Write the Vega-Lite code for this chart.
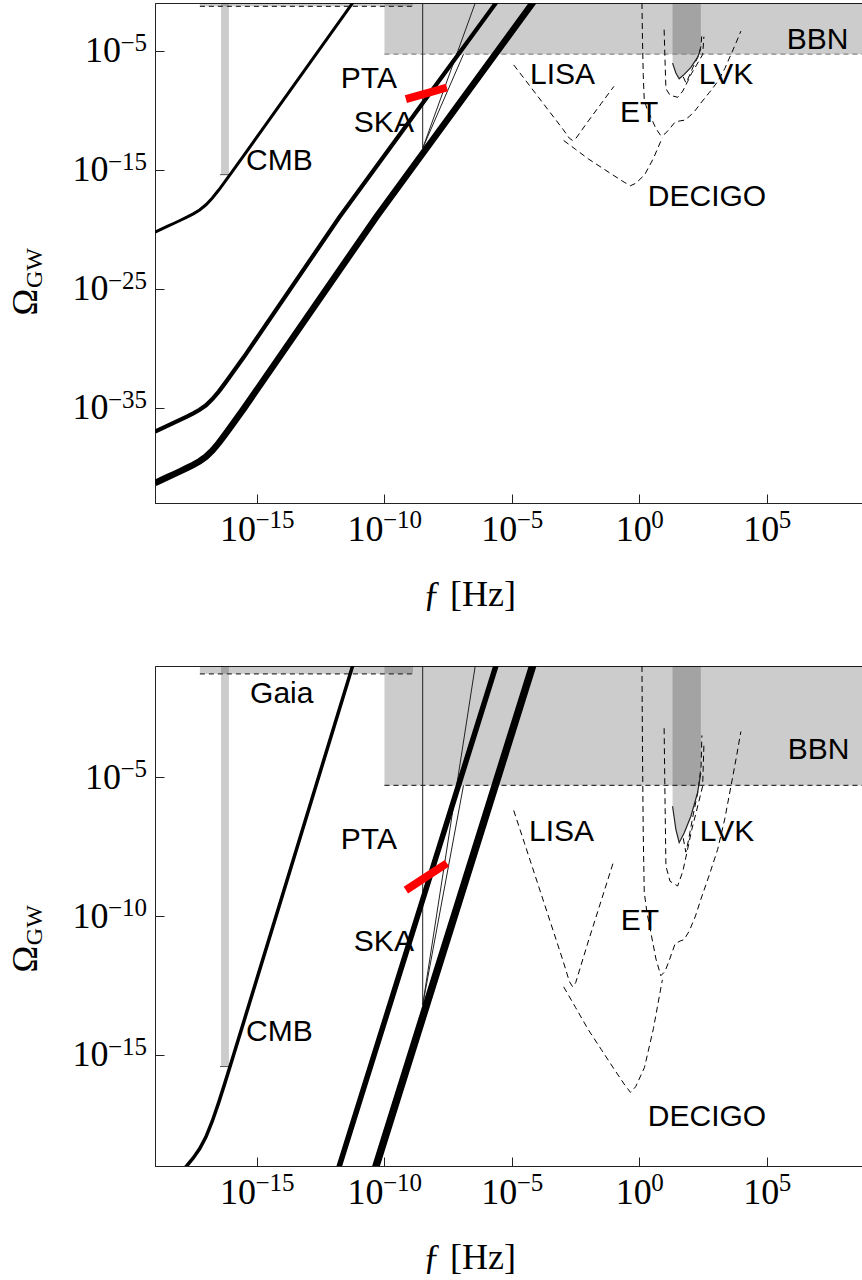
{
 "$schema": "https://vega.github.io/schema/vega-lite/v6.json",
 "background": "white",
 "padding": {"left": 7, "top": 2, "right": 0, "bottom": 0},
 "spacing": 52,
 "config": {
  "view": {"stroke": "#222", "strokeWidth": 1},
  "axis": {"labelFont": "Liberation Serif", "labelFontSize": 36, "titleFont": "Liberation Serif", "titleFontSize": 36, "titleFontWeight": "normal", "titleColor": "black", "labelColor": "black", "domainColor": "#222", "tickColor": "#222", "tickSize": -9, "grid": false, "labelOverlap": false, "labelFlush": false, "labelExpr": "'10'"},
  "axisX": {"labelPadding": 35, "labelBaseline": "middle", "labelAlign": "right",
   "labelOffset": {"condition": [{"test": "datum.value <= -10", "value": -1.5}, {"test": "datum.value == -5", "value": 4.7}], "value": 11.75},
   "titleX": 314, "titleY": 102, "titleBaseline": "alphabetic", "titleAlign": "center"},
  "axisY": {"labelPadding": {"condition": {"test": "datum.value == -5", "value": 43.6}, "value": 56}}
 },
 "datasets": {
  "regions": [
   {"id": "bbn", "X": -10, "X2": 9, "Y": -5.3, "Y2": -1},
   {"id": "gaia", "X": -17.24, "X2": -8.88, "Y": -1.28, "Y2": -1},
   {"id": "cmbbar", "X": -16.41, "X2": -16.1, "Y": -15.42, "Y2": -1}
  ],
  "bounds": [
   {"id": "bbn", "X": -10, "Y": -5.3}, {"id": "bbn", "X": 9, "Y": -5.3},
   {"id": "gaia", "X": -17.24, "Y": -1.28}, {"id": "gaia", "X": -8.88, "Y": -1.28}
  ],
  "cmbtick": [{"X": -16.45, "X2": -16.06, "Y": -15.42}],
  "ska": [
   {"id": "v", "X": -8.5, "Y": -1}, {"id": "v", "X": -8.5, "Y": -13.2},
   {"id": "a", "X": -8.5, "Y": -13.2}, {"id": "a", "X": -6.44, "Y": -1},
   {"id": "b", "X": -8.5, "Y": -13.2}, {"id": "b", "X": -6.9, "Y": -5.3}
  ],
  "pta": [{"X": -9.16, "Y": -9.07}, {"X": -7.55, "Y": -8.1}],
  "lvk_o3": [
   {"X": 1.30, "Y": -6.05}, {"X": 1.43, "Y": -6.88}, {"X": 1.56, "Y": -7.36}, {"X": 1.76, "Y": -7.0},
   {"X": 2.02, "Y": -6.41}, {"X": 2.28, "Y": -5.57}, {"X": 2.41, "Y": -4.85}
  ],
  "sens": [
   {"id": "LISA", "X": -4.93, "Y": -6.2}, {"id": "LISA", "X": -4.5, "Y": -7.4}, {"id": "LISA", "X": -4.0, "Y": -8.8},
   {"id": "LISA", "X": -3.5, "Y": -10.2}, {"id": "LISA", "X": -3.0, "Y": -11.6}, {"id": "LISA", "X": -2.75, "Y": -12.35},
   {"id": "LISA", "X": -2.62, "Y": -12.55}, {"id": "LISA", "X": -2.5, "Y": -12.4}, {"id": "LISA", "X": -2.0, "Y": -10.9},
   {"id": "LISA", "X": -1.5, "Y": -9.45}, {"id": "LISA", "X": -1.0, "Y": -8.0},
   {"id": "DECIGO", "X": -2.97, "Y": -12.55}, {"id": "DECIGO", "X": -2.5, "Y": -13.3}, {"id": "DECIGO", "X": -2.0, "Y": -14.1},
   {"id": "DECIGO", "X": -1.5, "Y": -14.8}, {"id": "DECIGO", "X": -1.0, "Y": -15.5}, {"id": "DECIGO", "X": -0.6, "Y": -16.05},
   {"id": "DECIGO", "X": -0.35, "Y": -16.35}, {"id": "DECIGO", "X": -0.15, "Y": -16.15}, {"id": "DECIGO", "X": 0.2, "Y": -15.45},
   {"id": "DECIGO", "X": 0.55, "Y": -14.05}, {"id": "DECIGO", "X": 0.9, "Y": -12.3},
   {"id": "ET", "X": 0.1, "Y": -1.0}, {"id": "ET", "X": 0.12, "Y": -4.0}, {"id": "ET", "X": 0.15, "Y": -7.0},
   {"id": "ET", "X": 0.19, "Y": -9.15}, {"id": "ET", "X": 0.3, "Y": -9.9}, {"id": "ET", "X": 0.45, "Y": -10.6},
   {"id": "ET", "X": 0.65, "Y": -11.55}, {"id": "ET", "X": 0.84, "Y": -12.15}, {"id": "ET", "X": 1.0, "Y": -12.0},
   {"id": "ET", "X": 1.17, "Y": -11.6}, {"id": "ET", "X": 1.4, "Y": -11.0}, {"id": "ET", "X": 1.6, "Y": -10.9},
   {"id": "ET", "X": 1.75, "Y": -10.85}, {"id": "ET", "X": 1.95, "Y": -10.55}, {"id": "ET", "X": 2.2, "Y": -10.0},
   {"id": "ET", "X": 2.41, "Y": -9.4}, {"id": "ET", "X": 2.75, "Y": -8.5}, {"id": "ET", "X": 3.07, "Y": -7.6},
   {"id": "ET", "X": 3.35, "Y": -6.5}, {"id": "ET", "X": 3.59, "Y": -5.33}, {"id": "ET", "X": 3.8, "Y": -4.3},
   {"id": "ET", "X": 3.98, "Y": -3.36},
   {"id": "LVK1", "X": 0.97, "Y": -3.24}, {"id": "LVK1", "X": 1.0, "Y": -5.5}, {"id": "LVK1", "X": 1.04, "Y": -8.2},
   {"id": "LVK1", "X": 1.2, "Y": -8.75}, {"id": "LVK1", "X": 1.5, "Y": -8.92}, {"id": "LVK1", "X": 1.7, "Y": -8.4},
   {"id": "LVK1", "X": 1.89, "Y": -7.6}, {"id": "LVK1", "X": 2.05, "Y": -6.9}, {"id": "LVK1", "X": 2.22, "Y": -6.29},
   {"id": "LVK1", "X": 2.48, "Y": -5.33}, {"id": "LVK1", "X": 2.53, "Y": -3.83},
   {"id": "LVK2", "X": 1.72, "Y": -7.2}, {"id": "LVK2", "X": 1.82, "Y": -7.7}, {"id": "LVK2", "X": 1.92, "Y": -7.3},
   {"id": "LVK2", "X": 2.1, "Y": -6.4}, {"id": "LVK2", "X": 2.3, "Y": -5.5}, {"id": "LVK2", "X": 2.42, "Y": -4.6},
   {"id": "LVK2", "X": 2.45, "Y": -3.5}
  ],
  "curves": [
   {"id": "cmb", "X": -19, "Y": -20.25}, {"id": "cmb", "X": -18.75, "Y": -20.0}, {"id": "cmb", "X": -18.5, "Y": -19.75},
   {"id": "cmb", "X": -18.25, "Y": -19.5}, {"id": "cmb", "X": -18, "Y": -19.25}, {"id": "cmb", "X": -17.75, "Y": -18.99},
   {"id": "cmb", "X": -17.5, "Y": -18.71}, {"id": "cmb", "X": -17.25, "Y": -18.38}, {"id": "cmb", "X": -17, "Y": -17.95},
   {"id": "cmb", "X": -16.75, "Y": -17.38}, {"id": "cmb", "X": -16.5, "Y": -16.71}, {"id": "cmb", "X": -16.25, "Y": -15.99},
   {"id": "cmb", "X": -16, "Y": -15.25}, {"id": "cmb", "X": -15.5, "Y": -13.75}, {"id": "cmb", "X": -11, "Y": -0.25},
   {"id": "mid", "X": -19, "Y": -37.0}, {"id": "mid", "X": -18.75, "Y": -36.75}, {"id": "mid", "X": -18.5, "Y": -36.5},
   {"id": "mid", "X": -18.25, "Y": -36.25}, {"id": "mid", "X": -18, "Y": -36.0}, {"id": "mid", "X": -17.75, "Y": -35.74},
   {"id": "mid", "X": -17.5, "Y": -35.47}, {"id": "mid", "X": -17.25, "Y": -35.17}, {"id": "mid", "X": -17, "Y": -34.79},
   {"id": "mid", "X": -16.75, "Y": -34.27}, {"id": "mid", "X": -16.5, "Y": -33.64}, {"id": "mid", "X": -16.25, "Y": -32.93},
   {"id": "mid", "X": -16, "Y": -32.19}, {"id": "mid", "X": -15.5, "Y": -30.7}, {"id": "mid", "X": -11.77, "Y": -19.0},
   {"id": "mid", "X": -5.63, "Y": -1.0}, {"id": "mid", "X": -5.3, "Y": -0.03},
   {"id": "thick", "X": -19, "Y": -41.32}, {"id": "thick", "X": -18.75, "Y": -41.07}, {"id": "thick", "X": -18.5, "Y": -40.82},
   {"id": "thick", "X": -18.25, "Y": -40.57}, {"id": "thick", "X": -18, "Y": -40.32}, {"id": "thick", "X": -17.75, "Y": -40.06},
   {"id": "thick", "X": -17.5, "Y": -39.79}, {"id": "thick", "X": -17.25, "Y": -39.49}, {"id": "thick", "X": -17, "Y": -39.11},
   {"id": "thick", "X": -16.75, "Y": -38.59}, {"id": "thick", "X": -16.5, "Y": -37.96}, {"id": "thick", "X": -16.25, "Y": -37.25},
   {"id": "thick", "X": -16, "Y": -36.51}, {"id": "thick", "X": -15.5, "Y": -35.02}, {"id": "thick", "X": -10.33, "Y": -19.0},
   {"id": "thick", "X": -4.19, "Y": -1.0}, {"id": "thick", "X": -3.9, "Y": -0.15}
  ],
  "labels_top": [
   {"text": "CMB", "X": -15.43, "Y": -14.28}, {"text": "PTA", "X": -11.71, "Y": -7.39},
   {"text": "SKA", "X": -11.2, "Y": -11.08}, {"text": "LISA", "X": -4.29, "Y": -7.05},
   {"text": "ET", "X": -0.76, "Y": -10.24}, {"text": "LVK", "X": 2.33, "Y": -7.05},
   {"text": "DECIGO", "X": 0.33, "Y": -17.3}, {"text": "BBN", "X": 5.78, "Y": -4.11}
  ],
  "labels_bottom": [
   {"text": "Gaia", "X": -15.27, "Y": -2.0}, {"text": "PTA", "X": -11.71, "Y": -7.28},
   {"text": "SKA", "X": -11.2, "Y": -10.94}, {"text": "CMB", "X": -15.43, "Y": -14.17},
   {"text": "LISA", "X": -4.33, "Y": -6.99}, {"text": "ET", "X": -0.73, "Y": -10.19},
   {"text": "LVK", "X": 2.37, "Y": -6.99}, {"text": "BBN", "X": 5.82, "Y": -4.01},
   {"text": "DECIGO", "X": 0.33, "Y": -17.22}
  ],
  "ytitle_top": [
   {"kind": "big", "text": "Ω", "X": -24.06, "Y": -26.13},
   {"kind": "sub", "text": "GW", "X": -23.69, "Y": -23.27}
  ],
  "ytitle_bottom": [
   {"kind": "big", "text": "Ω", "X": -24.06, "Y": -11.55},
   {"kind": "sub", "text": "GW", "X": -23.69, "Y": -10.33}
  ],
  "xexp_top": [
   {"X": -15, "Y": -43, "exp": "−15"}, {"X": -10, "Y": -43, "exp": "−10"}, {"X": -5, "Y": -43, "exp": "−5"},
   {"X": 0, "Y": -43, "exp": "0"}, {"X": 5, "Y": -43, "exp": "5"}
  ],
  "xexp_bottom": [
   {"X": -15, "Y": -19, "exp": "−15"}, {"X": -10, "Y": -19, "exp": "−10"}, {"X": -5, "Y": -19, "exp": "−5"},
   {"X": 0, "Y": -19, "exp": "0"}, {"X": 5, "Y": -19, "exp": "5"}
  ],
  "yexp_top": [
   {"X": -19, "Y": -5, "exp": "−5"}, {"X": -19, "Y": -15, "exp": "−15"}, {"X": -19, "Y": -25, "exp": "−25"}, {"X": -19, "Y": -35, "exp": "−35"}
  ],
  "yexp_bottom": [
   {"X": -19, "Y": -5, "exp": "−5"}, {"X": -19, "Y": -10, "exp": "−10"}, {"X": -19, "Y": -15, "exp": "−15"}
  ]
 },
 "vconcat": [
  {
   "width": 708, "height": 500,
   "encoding": {
    "x": {"field": "X", "type": "quantitative", "scale": {"domain": [-19, 8.77], "nice": false, "zero": false},
     "axis": {"values": [-15, -10, -5, 0, 5], "title": "ƒ [Hz]"}},
    "y": {"field": "Y", "type": "quantitative", "scale": {"domain": [-43, -1], "nice": false, "zero": false},
     "axis": {"values": [-5, -15, -25, -35], "title": null}}
   },
   "layer": [
    {"data": {"name": "regions"}, "mark": {"type": "rect", "fill": "black", "opacity": 0.2, "clip": true}, "encoding": {"x2": {"field": "X2"}, "y2": {"field": "Y2"}}},
    {"data": {"name": "lvk_o3"}, "mark": {"type": "area", "fill": "black", "opacity": 0.2, "clip": true}, "encoding": {"y2": {"datum": -1}}},
    {"data": {"name": "bounds"}, "transform": [{"filter": "datum.id == 'bbn'"}], "mark": {"type": "line", "stroke": "#888", "strokeWidth": 1.2, "strokeDash": [5, 4], "clip": true}, "encoding": {"detail": {"field": "id"}}},
    {"data": {"name": "bounds"}, "transform": [{"filter": "datum.id == 'gaia'"}], "mark": {"type": "line", "stroke": "#333", "strokeWidth": 1.2, "strokeDash": [5, 4], "clip": true}, "encoding": {"detail": {"field": "id"}}},
    {"data": {"name": "cmbtick"}, "mark": {"type": "rule", "stroke": "#555", "strokeWidth": 1}, "encoding": {"x2": {"field": "X2"}}},
    {"data": {"name": "ska"}, "mark": {"type": "line", "stroke": "#222", "strokeWidth": 1, "clip": true}, "encoding": {"detail": {"field": "id"}}},
    {"data": {"name": "sens"}, "mark": {"type": "line", "stroke": "black", "strokeWidth": 1, "strokeDash": [6, 4], "clip": true}, "encoding": {"detail": {"field": "id"}}},
    {"data": {"name": "lvk_o3"}, "mark": {"type": "line", "stroke": "#222", "strokeWidth": 1.2, "clip": true}, "encoding": {}},
    {"data": {"name": "curves"}, "transform": [{"filter": "datum.id == 'cmb'"}], "mark": {"type": "line", "stroke": "black", "strokeWidth": 3, "clip": true}, "encoding": {}},
    {"data": {"name": "curves"}, "transform": [{"filter": "datum.id == 'mid'"}], "mark": {"type": "line", "stroke": "black", "strokeWidth": 4.2, "clip": true}, "encoding": {}},
    {"data": {"name": "curves"}, "transform": [{"filter": "datum.id == 'thick'"}], "mark": {"type": "line", "stroke": "black", "strokeWidth": 6.5, "clip": true}, "encoding": {}},
    {"data": {"name": "pta"}, "mark": {"type": "line", "stroke": "#ff0000", "strokeWidth": 8, "strokeCap": "butt", "clip": true}, "encoding": {}},
    {"data": {"name": "labels_top"}, "mark": {"type": "text", "align": "left", "baseline": "middle", "font": "Liberation Sans", "fontSize": 30, "color": "black"}, "encoding": {"text": {"field": "text"}}},
    {"data": {"name": "xexp_top"}, "mark": {"type": "text", "align": "center", "baseline": "middle", "dx": 18, "dy": 17, "font": "Liberation Serif", "fontSize": 25, "color": "black"}, "encoding": {"text": {"field": "exp"}}},
    {"data": {"name": "yexp_top"}, "mark": {"type": "text", "align": "right", "baseline": "middle", "dx": -8, "dy": -8, "font": "Liberation Serif", "fontSize": 25, "color": "black"}, "encoding": {"text": {"field": "exp"}}},
    {"data": {"name": "ytitle_top"}, "transform": [{"filter": "datum.kind == 'big'"}], "mark": {"type": "text", "angle": 270, "align": "center", "baseline": "middle", "font": "Liberation Serif", "fontSize": 36, "color": "black"}, "encoding": {"text": {"field": "text"}}},
    {"data": {"name": "ytitle_top"}, "transform": [{"filter": "datum.kind == 'sub'"}], "mark": {"type": "text", "angle": 270, "align": "center", "baseline": "middle", "font": "Liberation Serif", "fontSize": 24, "color": "black"}, "encoding": {"text": {"field": "text"}}}
   ]
  },
  {
   "width": 708, "height": 500,
   "encoding": {
    "x": {"field": "X", "type": "quantitative", "scale": {"domain": [-19, 8.77], "nice": false, "zero": false},
     "axis": {"values": [-15, -10, -5, 0, 5], "title": "ƒ [Hz]"}},
    "y": {"field": "Y", "type": "quantitative", "scale": {"domain": [-19, -1], "nice": false, "zero": false},
     "axis": {"values": [-5, -10, -15], "title": null}}
   },
   "layer": [
    {"data": {"name": "regions"}, "mark": {"type": "rect", "fill": "black", "opacity": 0.2, "clip": true}, "encoding": {"x2": {"field": "X2"}, "y2": {"field": "Y2"}}},
    {"data": {"name": "lvk_o3"}, "mark": {"type": "area", "fill": "black", "opacity": 0.2, "clip": true}, "encoding": {"y2": {"datum": -1}}},
    {"data": {"name": "bounds"}, "mark": {"type": "line", "stroke": "#333", "strokeWidth": 1.2, "strokeDash": [5, 4], "clip": true}, "encoding": {"detail": {"field": "id"}}},
    {"data": {"name": "cmbtick"}, "mark": {"type": "rule", "stroke": "#555", "strokeWidth": 1}, "encoding": {"x2": {"field": "X2"}}},
    {"data": {"name": "ska"}, "mark": {"type": "line", "stroke": "#222", "strokeWidth": 1, "clip": true}, "encoding": {"detail": {"field": "id"}}},
    {"data": {"name": "sens"}, "mark": {"type": "line", "stroke": "black", "strokeWidth": 1, "strokeDash": [6, 4], "clip": true}, "encoding": {"detail": {"field": "id"}}},
    {"data": {"name": "lvk_o3"}, "mark": {"type": "line", "stroke": "#222", "strokeWidth": 1.2, "clip": true}, "encoding": {}},
    {"data": {"name": "curves"}, "transform": [{"filter": "datum.id == 'cmb'"}], "mark": {"type": "line", "stroke": "black", "strokeWidth": 3.5, "clip": true}, "encoding": {}},
    {"data": {"name": "curves"}, "transform": [{"filter": "datum.id == 'mid'"}], "mark": {"type": "line", "stroke": "black", "strokeWidth": 5.5, "clip": true}, "encoding": {}},
    {"data": {"name": "curves"}, "transform": [{"filter": "datum.id == 'thick'"}], "mark": {"type": "line", "stroke": "black", "strokeWidth": 7.5, "clip": true}, "encoding": {}},
    {"data": {"name": "pta"}, "mark": {"type": "line", "stroke": "#ff0000", "strokeWidth": 8, "strokeCap": "butt", "clip": true}, "encoding": {}},
    {"data": {"name": "labels_bottom"}, "mark": {"type": "text", "align": "left", "baseline": "middle", "font": "Liberation Sans", "fontSize": 30, "color": "black"}, "encoding": {"text": {"field": "text"}}},
    {"data": {"name": "xexp_bottom"}, "mark": {"type": "text", "align": "center", "baseline": "middle", "dx": 18, "dy": 17, "font": "Liberation Serif", "fontSize": 25, "color": "black"}, "encoding": {"text": {"field": "exp"}}},
    {"data": {"name": "yexp_bottom"}, "mark": {"type": "text", "align": "right", "baseline": "middle", "dx": -8, "dy": -8, "font": "Liberation Serif", "fontSize": 25, "color": "black"}, "encoding": {"text": {"field": "exp"}}},
    {"data": {"name": "ytitle_bottom"}, "transform": [{"filter": "datum.kind == 'big'"}], "mark": {"type": "text", "angle": 270, "align": "center", "baseline": "middle", "font": "Liberation Serif", "fontSize": 36, "color": "black"}, "encoding": {"text": {"field": "text"}}},
    {"data": {"name": "ytitle_bottom"}, "transform": [{"filter": "datum.kind == 'sub'"}], "mark": {"type": "text", "angle": 270, "align": "center", "baseline": "middle", "font": "Liberation Serif", "fontSize": 24, "color": "black"}, "encoding": {"text": {"field": "text"}}}
   ]
  }
 ]
}
